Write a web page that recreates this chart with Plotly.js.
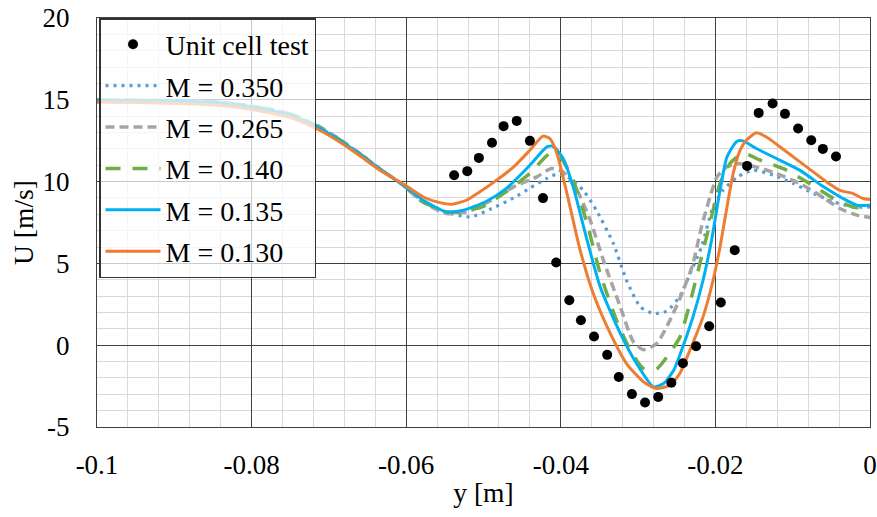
<!DOCTYPE html>
<html>
<head>
<meta charset="utf-8">
<script src="https://cdn.plot.ly/plotly-3.0.1.min.js"></script>
<style>html,body{margin:0;padding:0;background:#fff;}#chart{width:877px;height:517px;}</style>
</head>
<body>
<div id="chart"></div>
<script>
// Unit cell test (measured)
const testX = [-0.0538,-0.0521,-0.0506,-0.0489,-0.0474,-0.0457,-0.0440,-0.0423,-0.0406,-0.0389,-0.0374,-0.0357,-0.0340,-0.0325,-0.0308,-0.0291,-0.0274,-0.0257,-0.0242,-0.0225,-0.0208,-0.0193,-0.0175,-0.0159,-0.0144,-0.0126,-0.0110,-0.0093,-0.0076,-0.0061,-0.0044];
const testY = [10.39,10.64,11.45,12.37,13.39,13.71,12.49,8.99,5.06,2.75,1.53,0.53,-0.59,-1.94,-2.99,-3.50,-3.16,-2.30,-1.10,-0.06,1.16,2.61,5.81,10.96,14.20,14.77,14.14,13.25,12.53,12.00,11.53];

// M = 0.350
const m350X = [-0.1,-0.0944,-0.0893,-0.0841,-0.0802,-0.0750,-0.0712,-0.0686,-0.0660,-0.0634,-0.0602,-0.0582,-0.0548,-0.0517,-0.0492,-0.0461,-0.0440,-0.0418,-0.0405,-0.0388,-0.0371,-0.0354,-0.0332,-0.0315,-0.0297,-0.0280,-0.0263,-0.0246,-0.0229,-0.0218,-0.0203,-0.0190,-0.0172,-0.0151,-0.0125,-0.0099,-0.0073,-0.0047,-0.0022,0];
const m350Y = [14.98,14.96,14.93,14.83,14.60,14.10,13.30,12.56,11.70,10.78,9.72,8.92,8.13,7.84,8.30,9.00,9.60,10.20,10.45,10.20,9.47,8.25,6.22,3.97,2.34,1.94,2.08,3.00,4.79,6.01,8.45,9.47,10.27,10.70,10.39,9.88,9.27,8.76,8.45,8.45];

// M = 0.265
const m265X = [-0.1,-0.0944,-0.0893,-0.0841,-0.0802,-0.0750,-0.0712,-0.0686,-0.0660,-0.0634,-0.0602,-0.0582,-0.0548,-0.0522,-0.0492,-0.0461,-0.0431,-0.0412,-0.0397,-0.0379,-0.0362,-0.0345,-0.0323,-0.0306,-0.0293,-0.0276,-0.0259,-0.0242,-0.0229,-0.0218,-0.0207,-0.0198,-0.0185,-0.0172,-0.0151,-0.0121,-0.0091,-0.0065,-0.0039,-0.0017,0];
const m265Y = [14.98,14.97,14.95,14.86,14.64,14.15,13.35,12.58,11.72,10.78,9.72,8.86,8.05,8.15,8.80,9.68,10.29,10.80,10.59,9.47,7.64,5.20,2.34,0.20,-0.28,0.10,1.50,3.30,4.99,7.23,9.06,10.29,10.90,11.11,10.94,10.50,9.88,9.17,8.36,7.95,7.81];

// M = 0.140
const m140X = [-0.1,-0.0944,-0.0893,-0.0841,-0.0802,-0.0750,-0.0712,-0.0686,-0.0660,-0.0634,-0.0602,-0.0582,-0.0548,-0.0530,-0.0502,-0.0470,-0.0440,-0.0414,-0.0401,-0.0384,-0.0366,-0.0349,-0.0328,-0.0310,-0.0293,-0.0276,-0.0263,-0.0246,-0.0233,-0.0220,-0.0207,-0.0194,-0.0181,-0.0164,-0.0142,-0.0108,-0.0078,-0.0047,-0.0022,0];
const m140Y = [14.98,14.96,14.94,14.84,14.62,14.12,13.32,12.56,11.70,10.76,9.72,8.86,8.15,8.15,8.45,9.40,10.50,11.72,11.51,10.09,7.44,4.38,1.53,-0.31,-1.42,-1.45,-0.73,0.49,2.57,5.01,7.46,9.90,11.12,11.72,11.31,10.70,9.88,8.97,8.45,8.36];

// M = 0.135
const m135X = [-0.1,-0.0944,-0.0893,-0.0841,-0.0802,-0.0750,-0.0712,-0.0686,-0.0660,-0.0634,-0.0602,-0.0578,-0.0548,-0.0526,-0.0496,-0.0470,-0.0440,-0.0418,-0.0410,-0.0397,-0.0384,-0.0366,-0.0349,-0.0323,-0.0302,-0.0280,-0.0267,-0.0254,-0.0246,-0.0229,-0.0216,-0.0205,-0.0194,-0.0185,-0.0172,-0.0164,-0.0147,-0.0121,-0.0091,-0.0060,-0.0035,-0.0017,0];
const m135Y = [14.98,14.96,14.93,14.82,14.57,14.06,13.26,12.53,11.67,10.76,9.72,8.86,8.15,8.25,8.80,9.60,11.00,12.12,12.16,11.41,9.68,6.42,3.56,0.72,-1.12,-2.55,-2.34,-1.53,-0.60,1.73,3.97,6.42,9.47,11.51,12.47,12.49,12.02,11.41,10.70,9.68,8.97,8.56,8.56];

// M = 0.130
const m130X = [-0.1,-0.0944,-0.0893,-0.0841,-0.0802,-0.0750,-0.0712,-0.0686,-0.0660,-0.0634,-0.0602,-0.0578,-0.0555,-0.0541,-0.0522,-0.0505,-0.0483,-0.0461,-0.0440,-0.0423,-0.0414,-0.0405,-0.0392,-0.0375,-0.0358,-0.0336,-0.0315,-0.0293,-0.0276,-0.0259,-0.0246,-0.0233,-0.0216,-0.0203,-0.0194,-0.0185,-0.0177,-0.0168,-0.0160,-0.0147,-0.0134,-0.0108,-0.0082,-0.0056,-0.0039,-0.0022,-0.0009,0];
const m130Y = [14.85,14.83,14.78,14.66,14.42,13.92,13.14,12.42,11.58,10.70,9.80,9.06,8.70,8.62,8.86,9.37,10.09,10.90,11.92,12.78,12.63,11.72,9.27,5.81,3.16,0.72,-1.12,-2.24,-2.65,-2.45,-1.73,-0.31,1.73,3.97,6.01,8.45,10.50,11.92,12.53,12.98,12.73,11.82,10.90,9.98,9.47,9.27,8.97,8.91];

// Axis ticks
const xTickVals = [-0.1,-0.08,-0.06,-0.04,-0.02,0];
const xTickText = ['-0.1','-0.08','-0.06','-0.04','-0.02','0'];
const yTickVals = [-5,0,5,10,15,20];
const yTickText = ['-5','0','5','10','15','20'];

const FONT = 'Liberation Serif, Times New Roman, serif';

const traces = [
  {x: m350X, y: m350Y, name: 'M = 0.350', mode: 'lines', legendrank: 2, legendgroup: 'a',
   line: {color: '#5B9BD5', width: 3.2, dash: '3px,5px', shape: 'spline', smoothing: 0.6}},
  {x: m265X, y: m265Y, name: 'M = 0.265', mode: 'lines', legendrank: 3, legendgroup: 'b',
   line: {color: '#A5A5A5', width: 3.5, dash: '9px,5px', shape: 'spline', smoothing: 0.6}},
  {x: m140X, y: m140Y, name: 'M = 0.140', mode: 'lines', legendrank: 4, legendgroup: 'c',
   line: {color: '#70AD47', width: 3.5, dash: '15px,12px', shape: 'spline', smoothing: 0.6}},
  {x: m135X, y: m135Y, name: 'M = 0.135', mode: 'lines', legendrank: 5, legendgroup: 'd',
   line: {color: '#00B0F0', width: 3, shape: 'spline', smoothing: 0.6}},
  {x: m130X, y: m130Y, name: 'M = 0.130', mode: 'lines', legendrank: 6, legendgroup: 'e',
   line: {color: '#ED7D31', width: 3, shape: 'spline', smoothing: 0.6}},
  {x: testX, y: testY, name: 'Unit cell test', mode: 'markers', legendrank: 1, legendgroup: 'f',
   marker: {color: '#000', size: 10}}
];

const layout = {
  width: 877, height: 517,
  margin: {l: 97, r: 7, t: 18, b: 90},
  paper_bgcolor: '#fff', plot_bgcolor: '#fff',
  font: {family: FONT, size: 26, color: '#000'},
  showlegend: true,
  legend: {
    x: 0.0026, y: 1.0, xanchor: 'left', yanchor: 'top',
    bgcolor: 'rgba(255,255,255,0.72)', bordercolor: '#333', borderwidth: 1.5,
    font: {family: FONT, size: 28, color: '#000'},
    itemwidth: 55, tracegroupgap: 2, traceorder: 'grouped'
  },
  xaxis: {
    range: [-0.1, 0], tickvals: xTickVals, ticktext: xTickText,
    showgrid: true, gridcolor: '#404040', gridwidth: 1,
    minor: {dtick: 0.004, showgrid: true, gridcolor: '#D9D9D9', gridwidth: 1},
    zeroline: false, showline: true, linecolor: '#404040', linewidth: 1, mirror: true,
    ticks: '', ticklabelstandoff: 14,
    tickfont: {family: FONT, size: 27, color: '#000'},
    title: {text: 'y [m]', font: {family: FONT, size: 27.5, color: '#000'}, standoff: 3}
  },
  yaxis: {
    range: [-5, 20], tickvals: yTickVals, ticktext: yTickText,
    showgrid: true, gridcolor: '#404040', gridwidth: 1,
    minor: {dtick: 1, showgrid: true, gridcolor: '#D9D9D9', gridwidth: 1},
    zeroline: false, showline: true, linecolor: '#404040', linewidth: 1, mirror: true,
    ticks: '', ticklabelstandoff: 21,
    tickfont: {family: FONT, size: 27, color: '#000'},
    title: {text: 'U [m/s]', font: {family: FONT, size: 27.5, color: '#000'}, standoff: 0}
  }
};

Plotly.newPlot('chart', traces, layout, {displayModeBar: false, staticPlot: true});
</script>
</body>
</html>
